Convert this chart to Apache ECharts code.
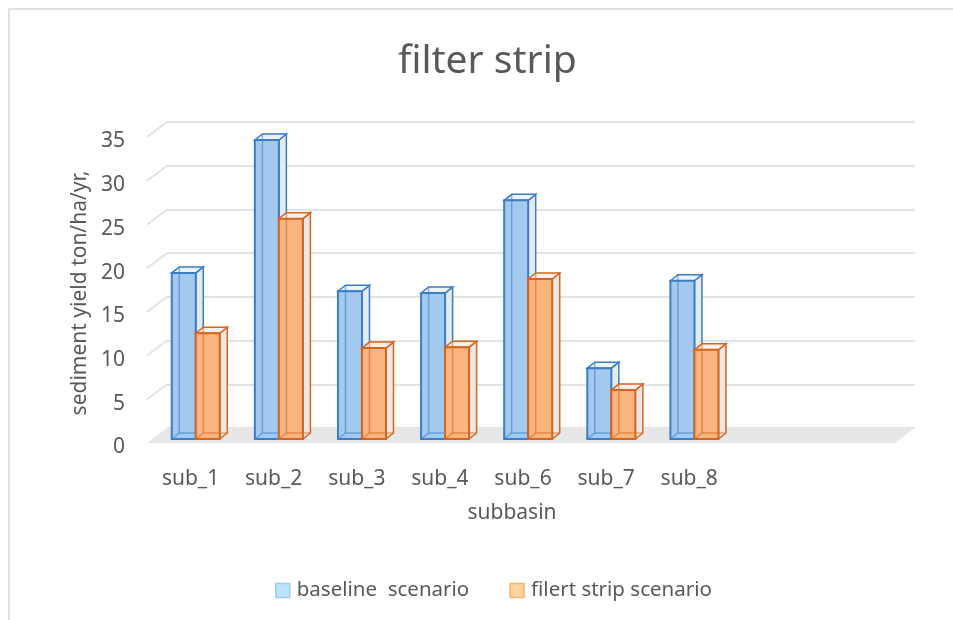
<!DOCTYPE html>
<html>
<head>
<meta charset="utf-8">
<script src="https://cdn.jsdelivr.net/npm/echarts@6/dist/echarts.min.js"></script>
<style>html,body{margin:0;padding:0;background:#fff;}#chart{width:953px;height:620px;}</style>
</head>
<body>
<div id="chart"></div>
<script>
const categories = ['sub_1', 'sub_2', 'sub_3', 'sub_4', 'sub_6', 'sub_7', 'sub_8', '', ''];
const baseline = [19.0, 34.2, 16.9, 16.7, 27.3, 8.1, 18.1];
const filterStrip = [12.1, 25.2, 10.4, 10.5, 18.3, 5.6, 10.2];
const yTicks = [0, 5, 10, 15, 20, 25, 30, 35];
const seriesNames = ['baseline  scenario', 'filert strip scenario'];

const FONT = 'Noto Sans';
const TXT = '#595959';
const DEPTH = [20, -15];     // wall depth (front -> back)
const BAR_DEPTH = [7.5, -6];

const styles = [
  {fill: '#a3c9ef', stroke: '#3b7dc6', inner: 'rgba(59,125,198,0.55)', side: '#e5eaef', top: '#eaf2fa'},
  {fill: '#f9b480', stroke: '#d4661f', inner: 'rgba(212,102,31,0.55)', side: '#ede8e5', top: '#fbf1ea'}
];

function barRenderer(si) {
  return function (params, api) {
    const cat = api.value(0), v = api.value(1);
    const top = api.coord([cat, v]);
    const base = api.coord([cat, 0]);
    const band = api.size([1, 0])[0];
    const w = band * 0.289;
    const off = -band * 0.154;
    const fx = base[0] + off + (si === 0 ? -w : 0);
    const fy0 = base[1] + 11;
    const fy1 = top[1] + 11;
    const dx = BAR_DEPTH[0], dy = BAR_DEPTH[1];
    const s = styles[si];
    return {
      type: 'group',
      children: [
        {type: 'polygon', shape: {points: [[fx + w, fy1], [fx + w + dx, fy1 + dy], [fx + w + dx, fy0 + dy], [fx + w, fy0]]},
          style: {fill: s.side, stroke: s.stroke, lineWidth: 1.5}},
        {type: 'polygon', shape: {points: [[fx, fy1], [fx + dx, fy1 + dy], [fx + w + dx, fy1 + dy], [fx + w, fy1]]},
          style: {fill: s.top, stroke: s.stroke, lineWidth: 1.5}},
        {type: 'rect', shape: {x: fx, y: fy1, width: w, height: fy0 - fy1},
          style: {fill: s.fill, stroke: s.stroke, lineWidth: 2}},
        {type: 'polyline', shape: {points: [[fx + dx, fy1 + dy], [fx + dx, fy0 + dy], [fx + w + dx, fy0 + dy]]},
          style: {fill: null, stroke: s.inner, lineWidth: 1.5}},
        {type: 'line', shape: {x1: fx, y1: fy0, x2: fx + dx, y2: fy0 + dy},
          style: {stroke: s.inner, lineWidth: 1.5}}
      ]
    };
  };
}

function floorRenderer(params, api) {
  const cs = params.coordSys;
  const x0 = cs.x, x1 = cs.x + cs.width;
  const yb = api.coord([0, 0])[1];
  const children = [];
  children.push({type: 'polygon', shape: {points: [[x0, yb], [x1, yb], [x1 - DEPTH[0], yb - DEPTH[1]], [x0 - DEPTH[0], yb - DEPTH[1]]]},
    style: {fill: '#e7e7e7'}});
  yTicks.forEach(function (t) {
    if (t === 0) return;
    const y = api.coord([0, t])[1];
    children.push({type: 'line', shape: {x1: x0 - DEPTH[0], y1: y - DEPTH[1], x2: x0, y2: y},
      style: {stroke: '#e3e3e3', lineWidth: 2}});
  });
  return {type: 'group', children: children};
}

const chart = echarts.init(document.getElementById('chart'), null, {renderer: 'canvas'});
chart.setOption({
  backgroundColor: '#ffffff',
  animation: false,
  title: {
    text: 'filter strip', left: 393, top: 37, padding: 5,
    textStyle: {fontFamily: FONT, fontSize: 39, fontWeight: 'normal', color: TXT}
  },
  graphic: [{
    type: 'rect', shape: {x: 9, y: 9, width: 960, height: 630}, silent: true,
    style: {fill: null, stroke: '#d9d9d9', lineWidth: 1.5}
  }],
  legend: {
    left: 270, top: 575, itemWidth: 14, itemHeight: 14, itemGap: 40, icon: 'rect',
    textStyle: {fontFamily: FONT, fontSize: 20.5, color: TXT, padding: [0, 0, 0, 2]},
    data: [
      {name: seriesNames[0], itemStyle: {color: '#bfe3fb', borderColor: '#9ccdf3', borderWidth: 1.5}},
      {name: seriesNames[1], itemStyle: {color: '#fdd39e', borderColor: '#f9b572', borderWidth: 1.5}}
    ]
  },
  grid: {left: 167, right: 38, top: 122, bottom: 192, containLabel: false},
  xAxis: {
    type: 'category', data: categories,
    axisLine: {show: false}, axisTick: {show: false}, splitLine: {show: false},
    axisLabel: {fontFamily: FONT, fontSize: 21, color: TXT, margin: 41, padding: [0, 36, 0, 0], interval: 0},
    name: 'subbasin', nameLocation: 'middle', nameGap: 75,
    nameTextStyle: {fontFamily: FONT, fontSize: 21, color: TXT, padding: [0, 58, 0, 0]}
  },
  yAxis: {
    type: 'value', min: 0, max: 35, interval: 5,
    axisLine: {show: false}, axisTick: {show: false},
    splitLine: {lineStyle: {color: '#e3e3e3', width: 2}},
    axisLabel: {fontFamily: FONT, fontSize: 21, color: TXT, margin: 42, verticalAlign: 'top', padding: [9, 0, 0, 0]},
    name: 'sediment yield ton/ha/yr,', nameLocation: 'middle', nameGap: 74, nameRotate: 90,
    nameTextStyle: {fontFamily: FONT, fontSize: 21, color: TXT, padding: [0, 36, 0, 0]}
  },
  series: [
    {type: 'custom', name: 'floor', renderItem: floorRenderer, data: [[0, 0]], silent: true, z: 1, tooltip: {show: false}},
    {type: 'custom', name: seriesNames[0], renderItem: barRenderer(0), itemStyle: {color: '#bfe3fb'},
      data: baseline.map(function (v, i) { return [i, v]; }), encode: {x: 0, y: 1}, z: 2},
    {type: 'custom', name: seriesNames[1], renderItem: barRenderer(1), itemStyle: {color: '#fdd39e'},
      data: filterStrip.map(function (v, i) { return [i, v]; }), encode: {x: 0, y: 1}, z: 3}
  ]
});
</script>
</body>
</html>
